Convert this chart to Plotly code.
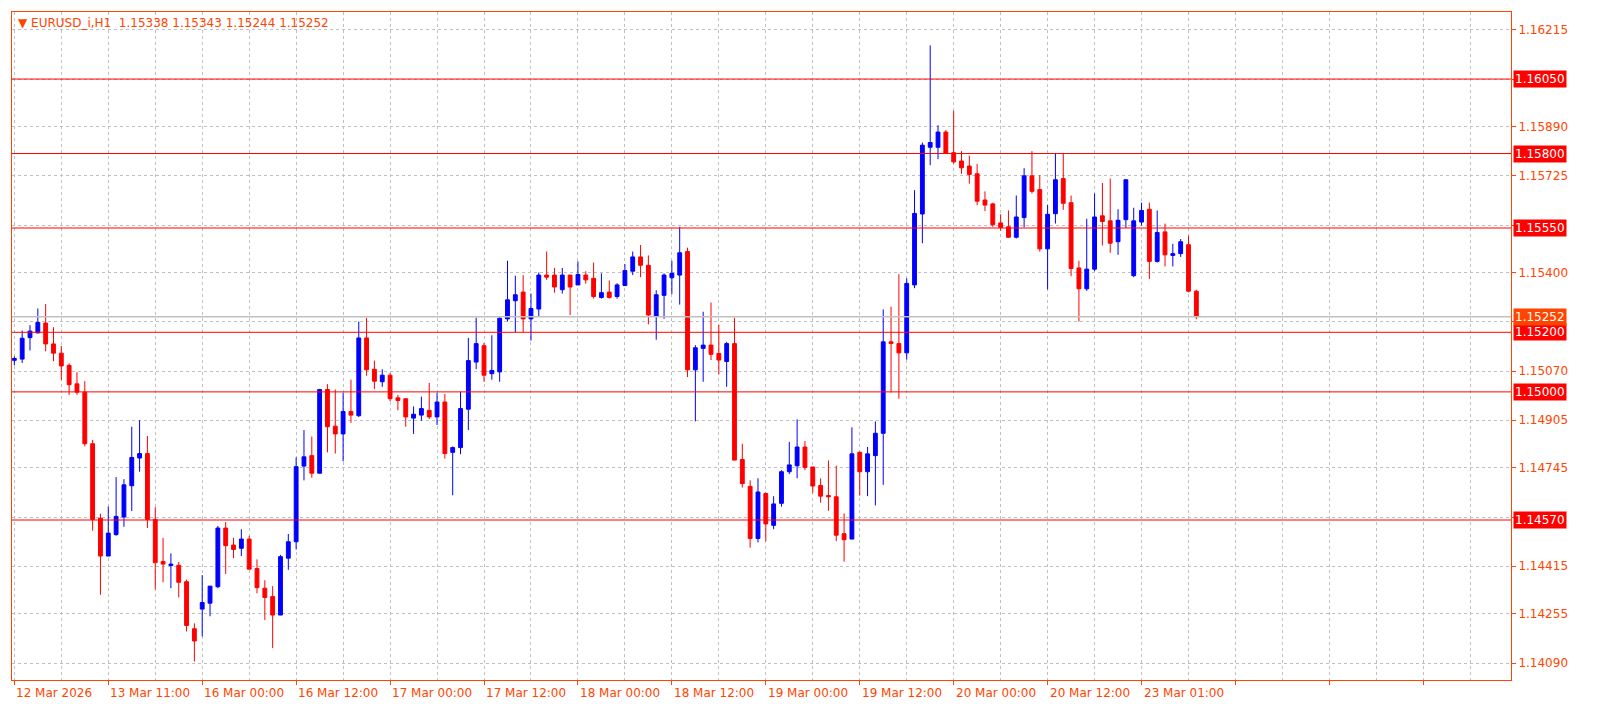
import plotly.graph_objects as go

# EURUSD_i H1 candles
opens = [1.15106, 1.15110, 1.15182, 1.15198, 1.15231, 1.15161, 1.15130, 1.15089, 1.15027, 1.14999,
         1.14826, 1.14576, 1.14449, 1.14521, 1.14580, 1.14685, 1.14778, 1.14793, 1.14572, 1.14431,
         1.14417, 1.14418, 1.14363, 1.14205, 1.14271, 1.14291, 1.14346, 1.14543, 1.14486, 1.14475,
         1.14506, 1.14407, 1.14341, 1.14313, 1.14251, 1.14442, 1.14497, 1.14751, 1.14786, 1.14727,
         1.15008, 1.14885, 1.14859, 1.14934, 1.14920, 1.15181, 1.15076, 1.15034, 1.15056, 1.14980,
         1.14977, 1.14912, 1.14922, 1.14938, 1.14916, 1.14966, 1.14797, 1.14813, 1.14942, 1.15100,
         1.15155, 1.15061, 1.15067, 1.15245, 1.15306, 1.15335, 1.15245, 1.15278, 1.15392, 1.15392,
         1.15343, 1.15392, 1.15359, 1.15392, 1.15381, 1.15317, 1.15335, 1.15320, 1.15357, 1.15405,
         1.15453, 1.15425, 1.15254, 1.15324, 1.15383, 1.15392, 1.15471, 1.15074, 1.15146, 1.15157,
         1.15129, 1.15102, 1.15162, 1.14773, 1.14683, 1.14508, 1.14659, 1.14552, 1.14626, 1.14732,
         1.14752, 1.14815, 1.14748, 1.14686, 1.14652, 1.14648, 1.14524, 1.14506, 1.14797, 1.14732,
         1.14786, 1.14861, 1.15168, 1.15162, 1.15131, 1.15359, 1.15597, 1.15821, 1.15821, 1.15872,
         1.15803, 1.15775, 1.15758, 1.15732, 1.15644, 1.15631, 1.15567, 1.15554, 1.15519, 1.15585,
         1.15725, 1.15679, 1.15480, 1.15598, 1.15716, 1.15635, 1.15416, 1.15346, 1.15412, 1.15591,
         1.15574, 1.15504, 1.15578, 1.15390, 1.15570, 1.15613, 1.15438, 1.15537, 1.15458, 1.15464,
         1.15494, 1.15338]
highs = [1.15119, 1.15206, 1.15224, 1.15280, 1.15295, 1.15217, 1.15154, 1.15096, 1.15066, 1.15036,
         1.14839, 1.14591, 1.14615, 1.14714, 1.14707, 1.14883, 1.14905, 1.14852, 1.14613, 1.14510,
         1.14458, 1.14429, 1.14370, 1.14223, 1.14385, 1.14348, 1.14550, 1.14563, 1.14510, 1.14539,
         1.14517, 1.14438, 1.14368, 1.14348, 1.14453, 1.14523, 1.14780, 1.14872, 1.14850, 1.15010,
         1.15026, 1.15008, 1.14997, 1.15041, 1.15236, 1.15249, 1.15105, 1.15076, 1.15063, 1.14990,
         1.14977, 1.14951, 1.14984, 1.15030, 1.14997, 1.14993, 1.14817, 1.15001, 1.15181, 1.15249,
         1.15164, 1.15190, 1.15251, 1.15440, 1.15390, 1.15392, 1.15330, 1.15401, 1.15471, 1.15416,
         1.15416, 1.15392, 1.15438, 1.15405, 1.15434, 1.15398, 1.15374, 1.15365, 1.15429, 1.15471,
         1.15493, 1.15458, 1.15341, 1.15398, 1.15440, 1.15554, 1.15484, 1.15157, 1.15269, 1.15300,
         1.15225, 1.15168, 1.15249, 1.14826, 1.14703, 1.14710, 1.14662, 1.14650, 1.14737, 1.14832,
         1.14908, 1.14835, 1.14748, 1.14710, 1.14770, 1.14752, 1.14592, 1.14881, 1.14800, 1.14815,
         1.14901, 1.15277, 1.15286, 1.15395, 1.15381, 1.15677, 1.15837, 1.16163, 1.15895, 1.15879,
         1.15944, 1.15808, 1.15793, 1.15765, 1.15673, 1.15635, 1.15596, 1.15609, 1.15659, 1.15751,
         1.15808, 1.15727, 1.15627, 1.15802, 1.15800, 1.15659, 1.15440, 1.15581, 1.15666, 1.15701,
         1.15716, 1.15613, 1.15712, 1.15618, 1.15635, 1.15635, 1.15609, 1.15565, 1.15497, 1.15513,
         1.15524, 1.15343]
lows = [1.15089, 1.15097, 1.15139, 1.15196, 1.15136, 1.15103, 1.15040, 1.14990, 1.14990, 1.14817,
        1.14534, 1.14319, 1.14449, 1.14517, 1.14547, 1.14600, 1.14732, 1.14543, 1.14337, 1.14361,
        1.14341, 1.14310, 1.14196, 1.14095, 1.14179, 1.14247, 1.14341, 1.14389, 1.14442, 1.14449,
        1.14405, 1.14324, 1.14234, 1.14140, 1.14251, 1.14403, 1.14471, 1.14703, 1.14712, 1.14727,
        1.14797, 1.14793, 1.14767, 1.14896, 1.14916, 1.15054, 1.15010, 1.15017, 1.14968, 1.14938,
        1.14883, 1.14859, 1.14903, 1.14909, 1.14889, 1.14776, 1.14653, 1.14791, 1.14872, 1.15076,
        1.15034, 1.15041, 1.15034, 1.15236, 1.15201, 1.15201, 1.15172, 1.15254, 1.15376, 1.15333,
        1.15330, 1.15258, 1.15359, 1.15363, 1.15313, 1.15313, 1.15313, 1.15313, 1.15355, 1.15392,
        1.15385, 1.15227, 1.15175, 1.15245, 1.15328, 1.15293, 1.15050, 1.14901, 1.15034, 1.15107,
        1.15059, 1.15017, 1.14771, 1.14679, 1.14477, 1.14495, 1.14499, 1.14539, 1.14615, 1.14724,
        1.14710, 1.14737, 1.14661, 1.14628, 1.14601, 1.14499, 1.14430, 1.14506, 1.14652, 1.14650,
        1.14619, 1.14688, 1.14998, 1.14977, 1.15108, 1.15348, 1.15499, 1.15761, 1.15781, 1.15801,
        1.15766, 1.15732, 1.15699, 1.15627, 1.15607, 1.15554, 1.15541, 1.15517, 1.15515, 1.15552,
        1.15666, 1.15471, 1.15344, 1.15565, 1.15611, 1.15388, 1.15236, 1.15339, 1.15405, 1.15491,
        1.15467, 1.15460, 1.15550, 1.15385, 1.15559, 1.15379, 1.15434, 1.15421, 1.15421, 1.15453,
        1.15334, 1.15244]
closes = [1.15112, 1.15180, 1.15204, 1.15233, 1.15161, 1.15130, 1.15087, 1.15024, 1.14999, 1.14826,
          1.14572, 1.14449, 1.14526, 1.14582, 1.14688, 1.14780, 1.14793, 1.14572, 1.14427, 1.14422,
          1.14422, 1.14361, 1.14216, 1.14164, 1.14293, 1.14348, 1.14543, 1.14484, 1.14471, 1.14506,
          1.14405, 1.14343, 1.14310, 1.14251, 1.14447, 1.14497, 1.14749, 1.14782, 1.14727, 1.15008,
          1.14883, 1.14859, 1.14934, 1.14922, 1.15181, 1.15074, 1.15036, 1.15056, 1.14977, 1.14971,
          1.14916, 1.14925, 1.14944, 1.14916, 1.14966, 1.14793, 1.14813, 1.14944, 1.15105, 1.15162,
          1.15056, 1.15072, 1.15247, 1.15309, 1.15326, 1.15245, 1.15280, 1.15392, 1.15385, 1.15352,
          1.15392, 1.15352, 1.15394, 1.15376, 1.15320, 1.15333, 1.15317, 1.15359, 1.15407, 1.15453,
          1.15425, 1.15258, 1.15326, 1.15392, 1.15398, 1.15467, 1.15074, 1.15148, 1.15157, 1.15126,
          1.15107, 1.15162, 1.14771, 1.14692, 1.14508, 1.14664, 1.14557, 1.14624, 1.14732, 1.14755,
          1.14815, 1.14746, 1.14684, 1.14650, 1.14648, 1.14519, 1.14504, 1.14792, 1.14732, 1.14792,
          1.14861, 1.15168, 1.15162, 1.15131, 1.15364, 1.15599, 1.15828, 1.15837, 1.15872, 1.15801,
          1.15772, 1.15752, 1.15730, 1.15640, 1.15627, 1.15561, 1.15552, 1.15519, 1.15587, 1.15725,
          1.15673, 1.15480, 1.15596, 1.15712, 1.15633, 1.15414, 1.15346, 1.15412, 1.15587, 1.15572,
          1.15499, 1.15576, 1.15712, 1.15574, 1.15609, 1.15438, 1.15535, 1.15460, 1.15464, 1.15504,
          1.15338, 1.15252]

date_labels = ["12 Mar 2026", "13 Mar 11:00", "16 Mar 00:00", "16 Mar 12:00", "17 Mar 00:00",
               "17 Mar 12:00", "18 Mar 00:00", "18 Mar 12:00", "19 Mar 00:00", "19 Mar 12:00",
               "20 Mar 00:00", "20 Mar 12:00", "23 Mar 01:00"]
label_step = 12

grid_prices = [1.16215, 1.16050, 1.15890, 1.15725, 1.15560, 1.15400, 1.15235, 1.15070,
               1.14905, 1.14745, 1.14580, 1.14415, 1.14255, 1.14090]
grid_text = ["1.16215", "", "1.15890", "1.15725", "", "1.15400", "", "1.15070",
             "1.14905", "1.14745", "", "1.14415", "1.14255", "1.14090"]

levels = [1.16050, 1.15800, 1.15550, 1.15200, 1.15000, 1.14570]
bid = 1.15252

ORANGE = "#FF4500"
FONT = "DejaVu Sans"
DASH = "3px,3px"

idx = list(range(len(opens)))

fig = go.Figure(go.Candlestick(
    x=idx, open=opens, high=highs, low=lows, close=closes,
    increasing=dict(line=dict(color="#0000FF", width=1), fillcolor="#0000FF"),
    decreasing=dict(line=dict(color="#FF0000", width=1), fillcolor="#FF0000"),
    whiskerwidth=0, hoverinfo="skip", showlegend=False))

# support / resistance lines
for lv in levels:
    fig.add_hline(y=lv, line=dict(color="#FF0000", width=1))
    fig.add_annotation(x=1, xref="paper", y=lv, yref="y", xanchor="left", xshift=2,
                       text=f"{lv:.5f}", showarrow=False, bgcolor="#FF0000",
                       font=dict(color="white", size=12, family=FONT), borderpad=1)
fig.add_hline(y=bid, line=dict(color="#C0C0C0", width=1.5))
fig.add_annotation(x=1, xref="paper", y=bid, yref="y", xanchor="left", xshift=2,
                   text=f"{bid:.5f}", showarrow=False, bgcolor=ORANGE,
                   font=dict(color="white", size=12, family=FONT), borderpad=1)

# date labels start at their tick, MT4 style
for i, lab in enumerate(date_labels):
    fig.add_annotation(x=i * label_step, xref="x", y=0, yref="paper", yanchor="top",
                       xanchor="left", yshift=-4, text=lab, showarrow=False,
                       font=dict(color=ORANGE, size=12, family=FONT))

fig.add_annotation(x=0, xref="paper", y=1, yref="paper", xanchor="left", yanchor="top",
                   xshift=4, yshift=-2,
                   text="\u25bc EURUSD_i,H1  1.15338 1.15343 1.15244 1.15252",
                   showarrow=False, font=dict(color=ORANGE, size=12, family=FONT))

fig.update_layout(
    width=1601, height=713,
    margin=dict(l=4, r=98, t=4, b=41),
    plot_bgcolor="white", paper_bgcolor="white",
    font=dict(family=FONT, size=12, color=ORANGE),
    xaxis_rangeslider_visible=False,
    showlegend=False,
)
fig.update_xaxes(
    range=[-0.3, 191.2], tick0=0, dtick=label_step, ticks="outside", ticklen=4,
    tickcolor=ORANGE, showticklabels=False,
    showgrid=True, gridcolor="#C0C0C0", griddash=DASH, gridwidth=1,
    minor=dict(tick0=0, dtick=6, showgrid=True, gridcolor="#C0C0C0", griddash=DASH),
    showline=True, linecolor=ORANGE, linewidth=1, mirror=True, zeroline=False,
)
fig.update_yaxes(
    range=[1.14033, 1.16275], side="right", tickvals=grid_prices, ticktext=grid_text,
    ticks="outside", ticklen=4, tickcolor=ORANGE, tickfont=dict(color=ORANGE, size=12),
    showgrid=True, gridcolor="#C0C0C0", griddash=DASH, gridwidth=1,
    showline=True, linecolor=ORANGE, linewidth=1, mirror=True, zeroline=False,
)

fig.write_html("out.html")
